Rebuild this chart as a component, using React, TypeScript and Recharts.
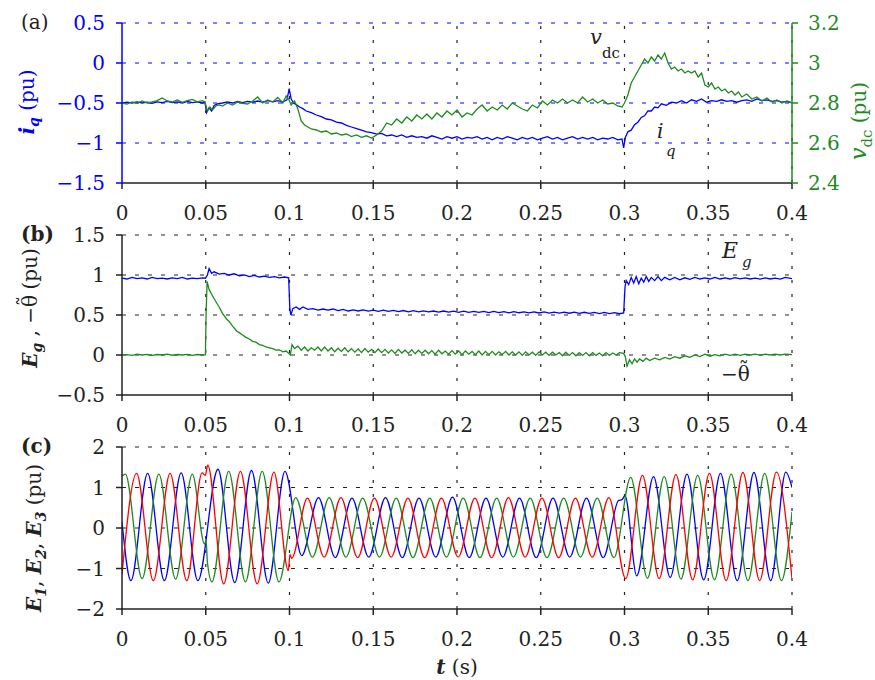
import React from 'react';
import { LineChart, Line, XAxis, YAxis, ReferenceLine } from 'recharts';

type Pt = [number, number];

// ---------- ticks ----------
const tTicks = [0, 0.05, 0.1, 0.15, 0.2, 0.25, 0.3, 0.35, 0.4];
const iqTicks = [-1.5, -1, -0.5, 0, 0.5];
const vdcTicks = [2.4, 2.6, 2.8, 3.0, 3.2];
const egTicks = [-0.5, 0, 0.5, 1, 1.5];
const eTicks = [-2, -1, 0, 1, 2];

// ---------- panel (a) ----------
const iqSeries: Pt[] = [
  [0,-0.5],[0.003,-0.49],[0.006,-0.5],[0.009,-0.485],[0.012,-0.5],[0.015,-0.49],[0.018,-0.505],[0.021,-0.485],[0.024,-0.495],[0.027,-0.48],[0.03,-0.495],[0.033,-0.485],[0.036,-0.5],[0.039,-0.48],[0.042,-0.495],[0.045,-0.485],[0.048,-0.5],[0.0495,-0.49],[0.0505,-0.62],[0.052,-0.56],[0.0535,-0.6],[0.055,-0.53],[0.057,-0.51],[0.06,-0.5],[0.063,-0.485],[0.066,-0.5],[0.069,-0.48],[0.072,-0.495],[0.075,-0.48],[0.078,-0.49],[0.081,-0.475],[0.084,-0.49],[0.087,-0.47],[0.09,-0.485],[0.093,-0.47],[0.096,-0.485],[0.0985,-0.46],[0.0998,-0.32],[0.101,-0.45],[0.1025,-0.5],[0.104,-0.52],[0.106,-0.55],[0.108,-0.57],[0.11,-0.6],[0.113,-0.62],[0.116,-0.65],[0.119,-0.67],[0.122,-0.7],[0.125,-0.71],[0.128,-0.74],[0.131,-0.75],[0.134,-0.78],[0.137,-0.8],[0.14,-0.82],[0.143,-0.84],[0.146,-0.86],[0.149,-0.87],[0.152,-0.89],[0.155,-0.88],[0.158,-0.91],[0.161,-0.9],[0.164,-0.92],[0.167,-0.9],[0.17,-0.93],[0.173,-0.91],[0.176,-0.93],[0.179,-0.92],[0.182,-0.94],[0.185,-0.91],[0.188,-0.93],[0.191,-0.95],[0.194,-0.92],[0.197,-0.94],[0.2,-0.92],[0.203,-0.95],[0.206,-0.93],[0.209,-0.94],[0.212,-0.92],[0.215,-0.95],[0.218,-0.93],[0.221,-0.96],[0.224,-0.93],[0.227,-0.95],[0.23,-0.92],[0.233,-0.94],[0.236,-0.96],[0.239,-0.93],[0.242,-0.95],[0.245,-0.93],[0.248,-0.96],[0.251,-0.94],[0.254,-0.92],[0.257,-0.95],[0.26,-0.93],[0.263,-0.96],[0.266,-0.94],[0.269,-0.92],[0.272,-0.95],[0.275,-0.93],[0.278,-0.95],[0.281,-0.93],[0.284,-0.96],[0.287,-0.94],[0.29,-0.95],[0.293,-0.93],[0.296,-0.96],[0.2985,-0.95],[0.2995,-1.06],[0.3005,-0.93],[0.302,-0.86],[0.304,-0.84],[0.306,-0.77],[0.308,-0.74],[0.31,-0.68],[0.312,-0.66],[0.314,-0.6],[0.316,-0.6],[0.318,-0.55],[0.32,-0.56],[0.322,-0.51],[0.325,-0.53],[0.328,-0.49],[0.331,-0.5],[0.334,-0.47],[0.337,-0.5],[0.34,-0.46],[0.343,-0.48],[0.346,-0.45],[0.349,-0.49],[0.352,-0.47],[0.355,-0.48],[0.358,-0.46],[0.361,-0.48],[0.364,-0.47],[0.367,-0.49],[0.37,-0.47],[0.373,-0.46],[0.376,-0.48],[0.379,-0.45],[0.382,-0.47],[0.385,-0.46],[0.388,-0.48],[0.391,-0.47],[0.394,-0.49],[0.397,-0.48],[0.4,-0.5],
];

const vdcSeries: Pt[] = [
  [0,2.8],[0.003,2.795],[0.006,2.805],[0.009,2.798],[0.012,2.81],[0.015,2.8],[0.018,2.805],[0.021,2.812],[0.024,2.825],[0.027,2.81],[0.03,2.805],[0.033,2.815],[0.036,2.803],[0.039,2.812],[0.042,2.818],[0.045,2.806],[0.048,2.812],[0.0495,2.805],[0.051,2.76],[0.0525,2.78],[0.054,2.765],[0.056,2.785],[0.058,2.79],[0.06,2.785],[0.063,2.8],[0.066,2.79],[0.069,2.805],[0.072,2.798],[0.075,2.795],[0.078,2.81],[0.081,2.83],[0.084,2.8],[0.087,2.815],[0.09,2.805],[0.093,2.828],[0.096,2.8],[0.098,2.835],[0.0995,2.82],[0.101,2.79],[0.103,2.81],[0.105,2.77],[0.107,2.71],[0.109,2.69],[0.111,2.68],[0.113,2.67],[0.116,2.665],[0.119,2.655],[0.122,2.66],[0.125,2.645],[0.128,2.65],[0.131,2.64],[0.134,2.645],[0.137,2.632],[0.14,2.64],[0.143,2.628],[0.146,2.636],[0.149,2.625],[0.152,2.64],[0.155,2.66],[0.158,2.7],[0.161,2.69],[0.164,2.72],[0.167,2.7],[0.17,2.73],[0.173,2.71],[0.176,2.74],[0.179,2.72],[0.182,2.745],[0.185,2.72],[0.188,2.75],[0.191,2.73],[0.194,2.76],[0.197,2.74],[0.2,2.765],[0.203,2.73],[0.206,2.75],[0.209,2.74],[0.212,2.77],[0.215,2.79],[0.218,2.76],[0.221,2.78],[0.224,2.765],[0.227,2.79],[0.23,2.77],[0.233,2.8],[0.236,2.785],[0.239,2.77],[0.242,2.76],[0.245,2.79],[0.248,2.775],[0.251,2.81],[0.254,2.79],[0.257,2.815],[0.26,2.8],[0.263,2.82],[0.266,2.8],[0.269,2.815],[0.272,2.8],[0.275,2.83],[0.278,2.805],[0.281,2.82],[0.284,2.8],[0.287,2.815],[0.29,2.795],[0.293,2.8],[0.296,2.785],[0.2985,2.78],[0.3,2.8],[0.302,2.84],[0.304,2.9],[0.306,2.93],[0.308,2.96],[0.31,2.99],[0.312,3.02],[0.314,3.0],[0.316,3.03],[0.318,3.01],[0.32,3.04],[0.322,3.02],[0.324,3.05],[0.326,3.0],[0.328,2.97],[0.33,2.98],[0.332,2.96],[0.334,2.97],[0.336,2.95],[0.338,2.96],[0.34,2.95],[0.342,2.96],[0.344,2.93],[0.346,2.95],[0.348,2.89],[0.35,2.88],[0.352,2.9],[0.354,2.87],[0.356,2.88],[0.358,2.86],[0.36,2.87],[0.362,2.85],[0.364,2.86],[0.366,2.84],[0.368,2.855],[0.37,2.83],[0.373,2.845],[0.376,2.82],[0.379,2.83],[0.382,2.81],[0.385,2.825],[0.388,2.805],[0.391,2.815],[0.394,2.8],[0.397,2.81],[0.4,2.8],
];

// ---------- panel (b) ----------
const egSeries: Pt[] = [
  [0,0.96],[0.003,0.95],[0.006,0.97],[0.009,0.955],[0.012,0.965],[0.015,0.95],[0.018,0.97],[0.021,0.955],[0.024,0.96],[0.027,0.95],[0.03,0.965],[0.033,0.955],[0.036,0.97],[0.039,0.95],[0.042,0.96],[0.045,0.955],[0.048,0.965],[0.0498,0.96],[0.051,1.0],[0.052,1.08],[0.0535,1.02],[0.055,1.04],[0.058,1.01],[0.061,1.02],[0.064,1.0],[0.067,1.015],[0.07,0.99],[0.073,1.0],[0.076,0.98],[0.079,0.995],[0.082,0.975],[0.085,0.985],[0.088,0.97],[0.091,0.98],[0.094,0.965],[0.097,0.975],[0.0995,0.965],[0.1002,0.58],[0.1008,0.5],[0.102,0.58],[0.104,0.6],[0.106,0.57],[0.108,0.6],[0.111,0.57],[0.114,0.58],[0.117,0.56],[0.12,0.575],[0.123,0.56],[0.126,0.575],[0.129,0.555],[0.132,0.57],[0.135,0.55],[0.138,0.565],[0.141,0.55],[0.144,0.565],[0.147,0.548],[0.15,0.56],[0.153,0.545],[0.156,0.56],[0.159,0.545],[0.162,0.558],[0.165,0.542],[0.168,0.556],[0.171,0.54],[0.174,0.555],[0.177,0.54],[0.18,0.552],[0.183,0.538],[0.186,0.55],[0.189,0.537],[0.192,0.55],[0.195,0.535],[0.198,0.548],[0.201,0.534],[0.204,0.548],[0.207,0.533],[0.21,0.546],[0.213,0.532],[0.216,0.545],[0.219,0.53],[0.222,0.544],[0.225,0.53],[0.228,0.543],[0.231,0.528],[0.234,0.542],[0.237,0.528],[0.24,0.54],[0.243,0.526],[0.246,0.54],[0.249,0.525],[0.252,0.538],[0.255,0.524],[0.258,0.537],[0.261,0.523],[0.264,0.536],[0.267,0.522],[0.27,0.535],[0.273,0.52],[0.276,0.534],[0.279,0.52],[0.282,0.533],[0.285,0.518],[0.288,0.532],[0.291,0.518],[0.294,0.53],[0.297,0.516],[0.2995,0.525],[0.3003,0.85],[0.301,0.93],[0.3025,0.88],[0.304,0.97],[0.3055,0.9],[0.307,0.98],[0.3085,0.89],[0.31,0.96],[0.3115,0.91],[0.313,0.98],[0.3145,0.92],[0.316,0.97],[0.318,0.93],[0.32,0.98],[0.322,0.93],[0.324,0.97],[0.327,0.94],[0.33,0.97],[0.333,0.94],[0.336,0.965],[0.339,0.945],[0.342,0.97],[0.345,0.95],[0.348,0.965],[0.351,0.95],[0.354,0.97],[0.357,0.95],[0.36,0.965],[0.363,0.95],[0.366,0.968],[0.369,0.952],[0.372,0.965],[0.375,0.95],[0.378,0.96],[0.381,0.948],[0.384,0.965],[0.387,0.95],[0.39,0.962],[0.393,0.948],[0.396,0.97],[0.4,0.955],
];

const thetaSeries: Pt[] = [
  [0,0],[0.003,0.005],[0.006,-0.005],[0.009,0.01],[0.012,0],[0.015,0.008],[0.018,-0.004],[0.021,0.006],[0.024,0.0],[0.027,0.01],[0.03,-0.003],[0.033,0.006],[0.036,0.0],[0.039,0.008],[0.042,-0.004],[0.045,0.006],[0.048,0.0],[0.0498,0.005],[0.0502,0.5],[0.0508,0.92],[0.052,0.82],[0.054,0.74],[0.0565,0.65],[0.058,0.6],[0.06,0.52],[0.0624,0.45],[0.064,0.42],[0.066,0.36],[0.0685,0.3],[0.07,0.28],[0.072,0.25],[0.074,0.22],[0.076,0.2],[0.078,0.17],[0.08,0.16],[0.082,0.13],[0.084,0.12],[0.086,0.1],[0.088,0.09],[0.09,0.08],[0.092,0.06],[0.094,0.065],[0.096,0.04],[0.098,0.05],[0.0995,0.02],[0.1005,0.0],[0.1015,0.13],[0.103,0.08],[0.105,0.11],[0.107,0.06],[0.109,0.1],[0.111,0.05],[0.113,0.09],[0.115,0.06],[0.117,0.1],[0.119,0.05],[0.121,0.1],[0.123,0.05],[0.125,0.09],[0.127,0.04],[0.129,0.085],[0.131,0.045],[0.133,0.09],[0.135,0.04],[0.137,0.08],[0.139,0.035],[0.141,0.075],[0.143,0.03],[0.145,0.08],[0.147,0.035],[0.149,0.07],[0.151,0.03],[0.153,0.075],[0.155,0.03],[0.157,0.07],[0.159,0.025],[0.161,0.065],[0.163,0.02],[0.165,0.07],[0.167,0.025],[0.169,0.06],[0.171,0.02],[0.173,0.065],[0.175,0.015],[0.177,0.06],[0.179,0.02],[0.181,0.06],[0.183,0.015],[0.185,0.055],[0.187,0.01],[0.189,0.06],[0.191,0.015],[0.193,0.05],[0.195,0.01],[0.197,0.055],[0.199,0.01],[0.201,0.05],[0.203,0.005],[0.205,0.05],[0.207,0.01],[0.209,0.045],[0.211,0.005],[0.213,0.05],[0.215,0.0],[0.217,0.045],[0.219,0.005],[0.221,0.045],[0.223,0.0],[0.225,0.04],[0.227,0.005],[0.229,0.045],[0.231,0.0],[0.233,0.04],[0.235,0.0],[0.237,0.04],[0.239,-0.005],[0.241,0.04],[0.243,0.0],[0.245,0.035],[0.247,-0.005],[0.249,0.04],[0.251,0.0],[0.253,0.035],[0.255,-0.005],[0.257,0.035],[0.259,0.0],[0.261,0.03],[0.263,-0.01],[0.265,0.035],[0.267,-0.005],[0.269,0.03],[0.271,-0.01],[0.273,0.03],[0.275,-0.005],[0.277,0.03],[0.279,-0.01],[0.281,0.03],[0.283,-0.005],[0.285,0.025],[0.287,-0.01],[0.289,0.03],[0.291,-0.005],[0.293,0.025],[0.295,0.0],[0.297,0.03],[0.2995,0.02],[0.3005,-0.02],[0.3015,-0.14],[0.303,-0.06],[0.3045,-0.11],[0.306,-0.05],[0.3075,-0.09],[0.309,-0.05],[0.311,-0.08],[0.313,-0.04],[0.315,-0.07],[0.318,-0.04],[0.321,-0.06],[0.324,-0.03],[0.327,-0.05],[0.33,-0.02],[0.333,-0.04],[0.336,-0.01],[0.339,-0.03],[0.342,0],[0.345,-0.02],[0.348,0.01],[0.351,-0.015],[0.354,0.005],[0.357,-0.01],[0.36,0.01],[0.363,-0.005],[0.366,0.01],[0.369,-0.005],[0.372,0.01],[0.375,0.0],[0.378,0.012],[0.381,-0.002],[0.384,0.01],[0.387,0.0],[0.39,0.012],[0.393,0.0],[0.396,0.01],[0.4,0.005],
];

// ---------- panel (c): peaks / troughs ----------
const e1Series: Pt[] = [
  [0,0.15],[0.0053,-1.3],[0.0153,1.35],[0.0253,-1.3],[0.0353,1.36],[0.0453,-1.3],[0.0573,1.45],[0.0673,-1.35],[0.0773,1.42],[0.0873,-1.36],[0.0973,1.4],[0.1073,-0.68],[0.1173,0.75],[0.1273,-0.73],[0.1373,0.74],[0.1473,-0.72],[0.1573,0.75],[0.1673,-0.73],[0.1773,0.74],[0.1873,-0.72],[0.1973,0.76],[0.2073,-0.73],[0.2173,0.74],[0.2273,-0.72],[0.2373,0.74],[0.2473,-0.73],[0.2573,0.74],[0.2673,-0.72],[0.2773,0.74],[0.2873,-0.73],[0.2965,0.68],[0.2985,0.7],[0.2998,0.78],[0.3003,0.8],[0.3073,-1.18],[0.3173,1.27],[0.3273,-1.22],[0.3373,1.33],[0.3473,-1.28],[0.3573,1.35],[0.3673,-1.3],[0.3773,1.37],[0.3873,-1.3],[0.3963,1.38],[0.4,1.0],
];
const e2Series: Pt[] = [
  [0,1.28],[0.002,1.33],[0.012,-1.25],[0.022,1.33],[0.032,-1.26],[0.042,1.33],[0.0493,-0.4],[0.0502,-0.3],[0.051,-0.85],[0.0537,-1.33],[0.0637,1.4],[0.0737,-1.33],[0.0837,1.4],[0.0937,-1.33],[0.1037,0.75],[0.1137,-0.72],[0.1237,0.75],[0.1337,-0.72],[0.1437,0.74],[0.1537,-0.72],[0.1637,0.74],[0.1737,-0.73],[0.1837,0.74],[0.1937,-0.72],[0.2037,0.74],[0.2137,-0.73],[0.2237,0.74],[0.2337,-0.72],[0.2437,0.74],[0.2537,-0.73],[0.2637,0.74],[0.2737,-0.72],[0.2837,0.74],[0.2937,-0.73],[0.3037,1.25],[0.3137,-1.24],[0.3237,1.27],[0.3337,-1.26],[0.3437,1.3],[0.3537,-1.28],[0.3637,1.33],[0.3737,-1.3],[0.3837,1.35],[0.3937,-1.3],[0.4,0.4],
];
const e3Series: Pt[] = [
  [0,-1.15],[0.0087,1.35],[0.0187,-1.3],[0.0287,1.35],[0.0387,-1.3],[0.0478,1.36],[0.0497,1.3],[0.0512,1.55],[0.0607,-1.38],[0.0707,1.4],[0.0807,-1.38],[0.0907,1.38],[0.0993,-1.05],[0.1003,-0.65],[0.1013,-0.75],[0.1107,0.74],[0.1207,-0.72],[0.1307,0.75],[0.1407,-0.73],[0.1507,0.74],[0.1607,-0.72],[0.1707,0.74],[0.1807,-0.73],[0.1907,0.74],[0.2007,-0.72],[0.2107,0.74],[0.2207,-0.73],[0.2307,0.75],[0.2407,-0.72],[0.2507,0.74],[0.2607,-0.73],[0.2707,0.74],[0.2807,-0.72],[0.2907,0.75],[0.3007,-1.25],[0.3107,1.3],[0.3207,-1.25],[0.3307,1.32],[0.3407,-1.28],[0.3507,1.35],[0.3607,-1.3],[0.3707,1.37],[0.3807,-1.3],[0.3907,1.38],[0.4,-1.25],
];

// ---------- style ----------
const FONT = "'DejaVu Serif', serif";
const BLUE = '#0000ff';
const GREEN = '#1f8a1f';
const RED = '#ff0000';
const INK = '#222222';
const FS = 20;
const LW = 1.3;

const rows = (pts: Pt[]) => pts.map(([t, v]) => ({ t, v }));
const fmt = (v: number) => String(v).replace('-', '\u2212');

const xAxisProps: any = {
  type: 'number', dataKey: 't', domain: [0, 0.4], ticks: tTicks, allowDataOverflow: true,
  tickFormatter: fmt, interval: 0, height: 45, tickSize: 6, tickMargin: 17,
  tick: { fill: INK, fontSize: FS, fontFamily: FONT },
  axisLine: { stroke: INK, strokeWidth: 1.5 }, tickLine: { stroke: INK, strokeWidth: 1.5 },
};

const yAxisProps = (color: string): any => ({
  type: 'number', allowDataOverflow: true, interval: 0, width: 122, tickSize: 6, tickMargin: 11,
  tickFormatter: fmt,
  tick: { fill: color, fontSize: FS, fontFamily: FONT },
  axisLine: { stroke: color, strokeWidth: 1.5 }, tickLine: { stroke: color, strokeWidth: 1.5 },
});

const MARGIN_A = { top: 23, right: 0, bottom: 0, left: 0 };
const MARGIN_BC = { top: 23, right: 83, bottom: 0, left: 0 };
const HDASH = '4 9';
const VDASH = '3 11';

export default function App() {
  return (
    <div style={{ position: 'absolute', left: 0, top: 0, width: 875, height: 680, background: '#fff', fontFamily: FONT }}>
      {/* (a) */}
      <div style={{ position: 'absolute', left: 0, top: 0 }}>
        <LineChart width={875} height={228} margin={MARGIN_A}>
          <XAxis {...xAxisProps} />
          <YAxis yAxisId="l" {...yAxisProps(BLUE)} domain={[-1.5, 0.5]} ticks={iqTicks} />
          <YAxis yAxisId="r" {...yAxisProps(GREEN)} orientation="right" width={83} tickMargin={10} domain={[2.4, 3.2]} ticks={vdcTicks} />
          {iqTicks.slice(1).map((v) => (
            <ReferenceLine key={'ha' + v} yAxisId="l" y={v} stroke={BLUE} strokeDasharray={HDASH} strokeWidth={1.2} />
          ))}
          {tTicks.slice(1).map((t) => (
            <ReferenceLine key={'va' + t} yAxisId="l" x={t} stroke={INK} strokeDasharray={VDASH} strokeWidth={1.2} />
          ))}
          <Line yAxisId="l" data={rows(iqSeries)} dataKey="v" type="linear" stroke={BLUE} strokeWidth={LW} dot={false} isAnimationActive={false} />
          <Line yAxisId="r" data={rows(vdcSeries)} dataKey="v" type="linear" stroke={GREEN} strokeWidth={LW} dot={false} isAnimationActive={false} />
        </LineChart>
      </div>
      {/* (b) */}
      <div style={{ position: 'absolute', left: 0, top: 212 }}>
        <LineChart width={875} height={228} margin={MARGIN_BC}>
          <XAxis {...xAxisProps} />
          <YAxis {...yAxisProps(INK)} domain={[-0.5, 1.5]} ticks={egTicks} />
          {egTicks.slice(1).map((v) => (
            <ReferenceLine key={'hb' + v} y={v} stroke={INK} strokeDasharray={HDASH} strokeWidth={1.2} />
          ))}
          {tTicks.slice(1).map((t) => (
            <ReferenceLine key={'vb' + t} x={t} stroke={INK} strokeDasharray={VDASH} strokeWidth={1.2} />
          ))}
          <Line data={rows(egSeries)} dataKey="v" type="linear" stroke={BLUE} strokeWidth={LW} dot={false} isAnimationActive={false} />
          <Line data={rows(thetaSeries)} dataKey="v" type="linear" stroke={GREEN} strokeWidth={LW} dot={false} isAnimationActive={false} />
        </LineChart>
      </div>
      {/* (c) */}
      <div style={{ position: 'absolute', left: 0, top: 424 }}>
        <LineChart width={875} height={230} margin={MARGIN_BC}>
          <XAxis {...xAxisProps} />
          <YAxis {...yAxisProps(INK)} domain={[-2, 2]} ticks={eTicks} />
          {eTicks.slice(1).map((v) => (
            <ReferenceLine key={'hc' + v} y={v} stroke={INK} strokeDasharray={HDASH} strokeWidth={1.2} />
          ))}
          {tTicks.slice(1).map((t) => (
            <ReferenceLine key={'vc' + t} x={t} stroke={INK} strokeDasharray={VDASH} strokeWidth={1.2} />
          ))}
          <Line data={rows(e1Series)} dataKey="v" type="monotone" stroke={BLUE} strokeWidth={LW} dot={false} isAnimationActive={false} />
          <Line data={rows(e2Series)} dataKey="v" type="monotone" stroke={GREEN} strokeWidth={LW} dot={false} isAnimationActive={false} />
          <Line data={rows(e3Series)} dataKey="v" type="monotone" stroke={RED} strokeWidth={LW} dot={false} isAnimationActive={false} />
        </LineChart>
      </div>
      {/* text overlay */}
      <svg width={875} height={680} style={{ position: 'absolute', left: 0, top: 0, pointerEvents: 'none' }} fontFamily={FONT}>
        <text x={21} y={29} fontSize={FS} fill={INK}>(a)</text>
        <text x={21} y={241} fontSize={FS} fill={INK} fontWeight="bold">(b)</text>
        <text x={21} y={453} fontSize={FS} fill={INK} fontWeight="bold">(c)</text>

        <text transform="translate(34,102) rotate(-90)" textAnchor="middle" fontSize={FS} fill={BLUE}>
          <tspan fontStyle="italic" fontWeight="bold">i</tspan>
          <tspan fontStyle="italic" fontWeight="bold" fontSize={14} dy={5}>q</tspan>
          <tspan dy={-5}>{'  (pu)'}</tspan>
        </text>
        <text transform="translate(866,121) rotate(-90)" textAnchor="middle" fontSize={FS} fill={GREEN}>
          <tspan fontStyle="italic" fontSize={22}>v</tspan>
          <tspan fontSize={15} dy={6}>dc</tspan>
          <tspan dy={-6}>{'  (pu)'}</tspan>
        </text>
        <text transform="translate(37,308) rotate(-90)" textAnchor="middle" fontSize={FS} fill={INK}>
          <tspan fontStyle="italic" fontWeight="bold">E</tspan>
          <tspan fontStyle="italic" fontWeight="bold" fontSize={14} dy={5}>g</tspan>
          <tspan dy={-5}>{' , \u2212\u03b8'}</tspan>
          <tspan dx={-11} dy={-5}>{'\u02dc'}</tspan>
          <tspan dy={5}>{' (pu)'}</tspan>
        </text>
        <text transform="translate(41,538) rotate(-90)" textAnchor="middle" fontSize={FS} fill={INK}>
          <tspan fontStyle="italic" fontWeight="bold">E</tspan>
          <tspan fontStyle="italic" fontWeight="bold" fontSize={14} dy={5}>1</tspan>
          <tspan dy={-5}>{', '}</tspan>
          <tspan fontStyle="italic" fontWeight="bold">E</tspan>
          <tspan fontStyle="italic" fontWeight="bold" fontSize={14} dy={5}>2</tspan>
          <tspan dy={-5}>{', '}</tspan>
          <tspan fontStyle="italic" fontWeight="bold">E</tspan>
          <tspan fontStyle="italic" fontWeight="bold" fontSize={14} dy={5}>3</tspan>
          <tspan dy={-5}>{' (pu)'}</tspan>
        </text>

        <text x={590} y={44} fontSize={21} fontStyle="italic" fill={INK}>v</text>
        <text x={602} y={58} fontSize={15} fill={INK}>dc</text>
        <text x={657} y={138} fontSize={20} fontStyle="italic" fill={INK}>i</text>
        <text x={666} y={156} fontSize={15} fontStyle="italic" fill={INK}>q</text>
        <text x={722} y={258} fontSize={22} fontStyle="italic" fill={INK}>E</text>
        <text x={742} y={267} fontSize={15} fontStyle="italic" fill={INK}>g</text>
        <text x={721} y={381} fontSize={FS} fill={INK}>
          {'\u2212\u03b8'}
          <tspan dx={-11} dy={-5}>{'\u02dc'}</tspan>
        </text>

        <text x={457} y={674} textAnchor="middle" fontSize={FS} fill={INK}>
          <tspan fontStyle="italic" fontWeight="bold">t</tspan>
          <tspan>{' (s)'}</tspan>
        </text>
      </svg>
    </div>
  );
}
